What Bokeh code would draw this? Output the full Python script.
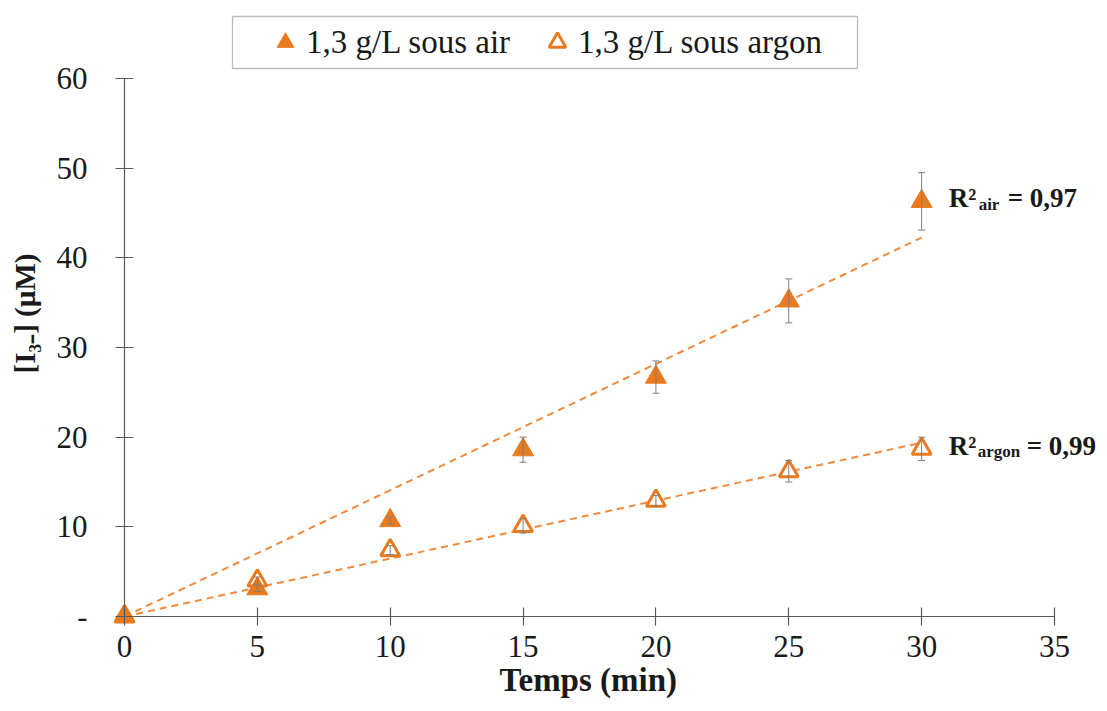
import numpy as np
from bokeh.plotting import figure
from bokeh.models import (ColumnDataSource, Range1d, Whisker, TeeHead, Legend, LegendItem,
                          Label, BoxAnnotation, FixedTicker, CustomJSTickFormatter, LinearAxis,
                          Title)
from bokeh.embed import file_html
from bokeh.resources import INLINE

# ---- data ----
temps = [0, 5, 10, 15, 20, 25, 30]
air = [0.0, 3.1, 10.7, 18.6, 26.7, 35.2, 46.3]
air_err = [0.0, 0.3, 0.4, 1.4, 1.8, 2.45, 3.2]
argon = [0.0, 4.0, 7.4, 10.1, 12.9, 16.2, 18.7]
argon_err = [0.0, 0.4, 0.5, 0.8, 0.6, 1.2, 1.3]
x_ticks = [0, 5, 10, 15, 20, 25, 30, 35]
y_ticks = [0, 10, 20, 30, 40, 50, 60]
legend_labels = ["1,3 g/L sous air", "1,3 g/L sous argon"]
x_label = "Temps (min)"
y_label = "[I\u2083\u208b] (\u00b5M)"
r2_air = "0,97"
r2_argon = "0,99"

ORANGE = "#E97A1E"
TREND = "#F08A3C"
GREY = "#7F7F7F"
AXIS = "#595959"
TXT = "#1a1a1a"
FONT = "Liberation Serif"

t = np.array(temps, dtype=float)
a = np.array(air)
g = np.array(argon)
slope_air = float((t * a).sum() / (t * t).sum())
slope_arg = float((t * g).sum() / (t * t).sum())
fit_x = [t.min(), t.max()]

src_air = ColumnDataSource(dict(x=temps, y=air,
                                lo=(a - np.array(air_err)).tolist(),
                                hi=(a + np.array(air_err)).tolist()))
src_arg = ColumnDataSource(dict(x=temps, y=argon,
                                lo=(g - np.array(argon_err)).tolist(),
                                hi=(g + np.array(argon_err)).tolist()))

W, H = 1105, 709
p = figure(width=W, height=H, output_backend="svg", toolbar_location=None,
           x_range=Range1d(-0.414, 36.92), y_range=Range1d(-1.115, 68.70),
           min_border_left=113, min_border_right=0, min_border_top=0, min_border_bottom=83)
p.outline_line_color = None
p.xgrid.visible = False
p.ygrid.visible = False
p.background_fill_color = "white"

# trend lines
p.line(fit_x, [slope_air * v for v in fit_x], line_color=TREND, line_width=2, line_dash="7 5")
p.line(fit_x, [slope_arg * v for v in fit_x], line_color=TREND, line_width=2, line_dash="7 5")

def whisker(src):
    return Whisker(source=src, base="x", upper="hi", lower="lo", line_color=GREY, line_width=1,
                   upper_head=TeeHead(size=7, line_color=GREY, line_width=1),
                   lower_head=TeeHead(size=7, line_color=GREY, line_width=1))

# argon (hollow) first, then air (filled) on top
r_arg = p.scatter("x", "y", source=src_arg, marker="triangle", size=19,
                  fill_color="white", line_color=ORANGE, line_width=3)
w_arg = whisker(src_arg)
w_arg.level = "glyph"
p.add_layout(w_arg)
w_air = whisker(src_air)
w_air.level = "glyph"
p.add_layout(w_air)
r_air = p.scatter("x", "y", source=src_air, marker="triangle", size=21,
                  fill_color=ORANGE, line_color=ORANGE, line_width=1)

# side-panel axes: labels only
xa = p.xaxis[0]
ya = p.yaxis[0]
for ax in (xa, ya):
    ax.axis_line_color = None
    ax.major_tick_line_color = None
    ax.major_tick_in = 0
    ax.major_tick_out = 0
    ax.minor_tick_line_color = None
    ax.major_label_text_font = FONT
    ax.major_label_text_font_size = "31px"
    ax.major_label_text_color = TXT
    ax.axis_label_text_font = FONT
    ax.axis_label_text_font_style = "bold"
    ax.axis_label_text_color = TXT
ya.axis_label_text_font_size = "29px"
xa.ticker = FixedTicker(ticks=x_ticks)
ya.ticker = FixedTicker(ticks=y_ticks)
ya.formatter = CustomJSTickFormatter(code="return tick == 0 ? '-' : tick.toString();")
ya.axis_label = y_label
xa.major_label_standoff = 9
ya.major_label_standoff = 26
ya.axis_label_standoff = 13

# x label as a bottom title, centred on the 0..35 axis
p.add_layout(Title(text=x_label, align="left", offset=386, standoff=0,
                   text_font=FONT, text_font_size="33px", text_font_style="bold",
                   text_color=TXT), "below")

# axis lines + crossing ticks at zero
blank = CustomJSTickFormatter(code="return '';")
for loc, ticks, bnds in (("below", x_ticks, (0, 35)), ("left", y_ticks, (0, 60))):
    ax = LinearAxis(fixed_location=0, bounds=bnds, ticker=FixedTicker(ticks=ticks),
                    formatter=blank, axis_line_color=AXIS, axis_line_width=1.2,
                    major_tick_line_color=AXIS, major_tick_line_width=1.2,
                    major_tick_in=9, major_tick_out=9, minor_tick_line_color=None,
                    major_label_text_font_size="1px")
    p.add_layout(ax, loc)

# legend
box = BoxAnnotation(left=232, right=857, top=16, bottom=68,
                    left_units="canvas", right_units="canvas",
                    top_units="canvas", bottom_units="canvas",
                    fill_color="white", fill_alpha=1, line_color="#222222", line_width=1.3,
                    level="overlay")
p.add_layout(box)
legend = Legend(items=[LegendItem(label=legend_labels[0], renderers=[r_air]),
                       LegendItem(label=legend_labels[1], renderers=[r_arg])],
                orientation="horizontal", location=(151, 563),
                glyph_width=42, glyph_height=42, label_standoff=0, spacing=26,
                padding=0, margin=0, border_line_color=None, background_fill_alpha=0,
                label_text_font=FONT, label_text_font_size="33px", label_text_color=TXT)
p.add_layout(legend, "center")

# R2 labels
def lab(txt, x, y, xo, yo, size):
    p.add_layout(Label(x=x, y=y, x_offset=xo, y_offset=yo, text=txt, text_font=FONT,
                       text_font_size=size, text_font_style="bold", text_color=TXT,
                       text_baseline="alphabetic"))

lab("R\u00b2", temps[-1], air[-1], 27, 3, "27px")
lab("air", temps[-1], air[-1], 57, -3, "17px")
lab("= " + r2_air, temps[-1], air[-1], 86, 3, "27px")
lab("R\u00b2", temps[-1], argon[-1], 27, 3, "27px")
lab("argon", temps[-1], argon[-1], 56, -3, "17px")
lab("= " + r2_argon, temps[-1], argon[-1], 105, 3, "27px")

open("out.html", "w").write(file_html(p, INLINE))
